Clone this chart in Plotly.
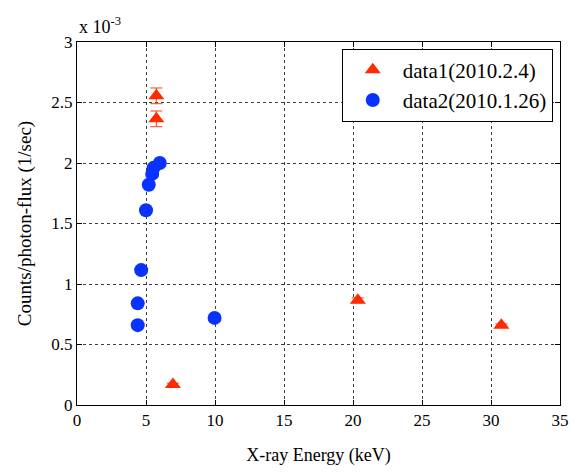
import plotly.graph_objects as go

# data1 (2010.2.4) - red triangles, values in units of 1e-3
x1 = [5.75, 5.75, 6.95, 20.35, 30.75]
y1 = [2.555, 2.365, 0.17, 0.865, 0.66]
e1 = [0.065, 0.065, 0.01, 0.02, 0.01]

# data2 (2010.1.26) - blue circles
x2 = [4.4, 4.4, 4.65, 5.0, 5.2, 5.45, 5.55, 6.0, 9.97]
y2 = [0.66, 0.84, 1.115, 1.61, 1.82, 1.91, 1.96, 2.0, 0.72]

xticks = [0, 5, 10, 15, 20, 25, 30, 35]
yticks = [0, 0.5, 1, 1.5, 2, 2.5, 3]
yticklabels = ["0", "0.5", "1", "1.5", "2", "2.5", "3"]

FONT = "Liberation Serif, Times New Roman, serif"

fig = go.Figure()
fig.add_trace(go.Scatter(
    x=x1, y=y1, mode="markers", name="data1(2010.2.4)",
    marker=dict(symbol="triangle-up", size=14, color="#ff2a00"),
    error_y=dict(type="data", array=e1, color="#ff3a10", thickness=1, width=6),
))
fig.add_trace(go.Scatter(
    x=x2, y=y2, mode="markers", name="data2(2010.1.26)",
    marker=dict(symbol="circle", size=14, color="#0a32ff"),
))

axis_common = dict(
    showline=True, linecolor="black", linewidth=1, mirror="ticks",
    ticks="inside", ticklen=5, tickcolor="black",
    showgrid=True, gridcolor="rgba(40,40,40,0.9)", griddash="dot", gridwidth=1,
    zeroline=False, tickfont=dict(family=FONT, size=17, color="black"),
    automargin=False,
)

fig.update_layout(
    width=578, height=472,
    margin=dict(l=77, r=18, t=42, b=67),
    paper_bgcolor="white", plot_bgcolor="white",
    font=dict(family=FONT, color="black"),
    showlegend=True,
    legend=dict(
        x=0.985, y=0.982, xanchor="right", yanchor="top",
        bgcolor="white", bordercolor="black", borderwidth=1,
        font=dict(family=FONT, size=21, color="black"),
        itemwidth=50,
    ),
    xaxis=dict(
        range=[0, 35], tickvals=xticks,
        title=dict(text="X-ray Energy (keV)", font=dict(family=FONT, size=18), standoff=18),
        **axis_common,
    ),
    yaxis=dict(
        range=[0, 3], tickvals=yticks, ticktext=yticklabels,
        title=dict(text="Counts/photon-flux (1/sec)", font=dict(family=FONT, size=19), standoff=14),
        **axis_common,
    ),
    annotations=[dict(
        text="x 10<sup>-3</sup>", xref="paper", yref="paper",
        x=0.0, y=1.0, xanchor="left", yanchor="bottom", yshift=3,
        showarrow=False, font=dict(family=FONT, size=18, color="black"),
    )],
)

fig.write_html("out.html")
